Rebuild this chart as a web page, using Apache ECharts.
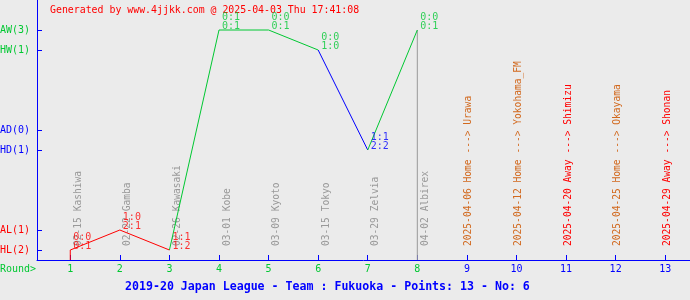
<!DOCTYPE html>
<html>
<head>
<meta charset="utf-8">
<script src="https://cdn.jsdelivr.net/npm/echarts@6/dist/echarts.min.js"></script>
<style>
html,body{margin:0;padding:0;background:#ebebeb;}
#c{width:690px;height:300px;}
</style>
</head>
<body>
<div id="c"></div>
<script>
// ---- data ----
const rounds = [1, 2, 3, 4, 5, 6, 7, 8];
const results = ['HL', 'AL', 'HL', 'AW', 'AW', 'HW', 'HD', 'AW'];
const scoresHalf = ['0:0', '1:0', '1:1', '0:1', '0:0', '0:0', '1:1', '0:0'];
const scoresFull = ['0:1', '2:1', '1:2', '0:1', '0:1', '1:0', '2:2', '0:1'];
const playedLabels = ['02-15 Kashiwa', '02-22 Gamba', '02-26 Kawasaki', '03-01 Kobe', '03-09 Kyoto', '03-15 Tokyo', '03-29 Zelvia', '04-02 Albirex'];
const futureRounds = [9, 10, 11, 12, 13];
const futureVenue = ['Home', 'Home', 'Away', 'Home', 'Away'];
const futureLabels = ['2025-04-06 Home ---> Urawa', '2025-04-12 Home ---> Yokohama_FM', '2025-04-20 Away ---> Shimizu', '2025-04-25 Home ---> Okayama', '2025-04-29 Away ---> Shonan'];
const levelNames = ['HL', 'AL', 'HD', 'AD', 'HW', 'AW'];
const levelValues = [1, 3, 11, 13, 21, 23];
const roundTicks = [1, 2, 3, 4, 5, 6, 7, 8, 9, 10, 11, 12, 13];
const currentRound = 8;
const headerText = 'Generated by www.4jjkk.com @ 2025-04-03 Thu 17:41:08';
const footerText = '2019-20 Japan League - Team : Fukuoka - Points: 13 - No: 6';

// ---- styles ----
const GREEN = '#00c832', BLUE = '#0000ff', RED = '#ff0000', GRAY = '#999999', HOMEC = '#d2691e';
const FONT = 'DejaVu Sans Mono';
const resColor = r => (String(r).endsWith('W') ? GREEN : (String(r).endsWith('D') ? BLUE : RED));
const level = r => levelValues[levelNames.indexOf(r)];
const nameOf = v => levelNames[levelValues.indexOf(Number(v))] || '';
const counts = {};
levelNames.forEach(n => counts[n] = results.filter(r => r === n).length);

// segment series
const series = [];
series.push({
  type: 'line', silent: true, symbol: 'none', z: 1,
  lineStyle: { color: GRAY, width: 1 },
  data: [[currentRound, 0], [currentRound, level(results[rounds.indexOf(currentRound)])]]
});
for (let i = 0; i < rounds.length; i++) {
  const from = i === 0 ? [rounds[0], 0] : [rounds[i - 1], level(results[i - 1])];
  const to = [rounds[i], level(results[i])];
  series.push({
    type: 'line', silent: true, symbol: 'none', z: 2,
    lineStyle: { color: resColor(results[i]), width: 1 },
    data: [from, to]
  });
}
// score labels
series.push({
  type: 'scatter', silent: true, symbolSize: 1, z: 3,
  itemStyle: { color: 'transparent' },
  data: rounds.map((r, i) => ({
    value: [r, level(results[i])],
    label: {
      show: true, position: 'right', distance: 2.5, offset: [0, -8.5],
      formatter: scoresHalf[i] + '\n' + scoresFull[i],
      color: resColor(results[i]), fontFamily: FONT, fontSize: 10, lineHeight: 9
    }
  }))
});
// vertical match labels
const vData = rounds.map((r, i) => [r, i, 0]).concat(futureRounds.map((r, i) => [r, i, 1]));
series.push({
  type: 'custom', silent: true, z: 0, clip: false,
  data: vData,
  renderItem: function (params, api) {
    const r = api.value(0), idx = api.value(1), fut = api.value(2);
    const pt = api.coord([r, 0]);
    const text = fut ? futureLabels[idx] : playedLabels[idx];
    const color = fut ? (futureVenue[idx] === 'Home' ? HOMEC : RED) : GRAY;
    return {
      type: 'text',
      x: pt[0] + (fut ? 2 : 8),
      y: pt[1] - 14,
      rotation: Math.PI / 2,
      style: { text: text, fill: color, font: '9.6px "' + FONT + '"', align: 'left', verticalAlign: 'middle' }
    };
  }
});

const chart = echarts.init(document.getElementById('c'), null, { renderer: 'canvas' });
chart.setOption({
  backgroundColor: '#ebebeb',
  animation: false,
  grid: { left: 37, right: 0, top: 0, bottom: 40, containLabel: false, outerBoundsMode: 'none' },
  xAxis: {
    type: 'value', min: 0.329, max: 13.5,
    axisLine: { show: true, lineStyle: { color: BLUE, width: 1 } },
    axisTick: { show: true, inside: true, length: 5, customValues: roundTicks, lineStyle: { color: BLUE } },
    axisLabel: {
      show: true, customValues: roundTicks, margin: 4,
      fontFamily: FONT, fontSize: 10,
      formatter: v => String(v),
      color: v => (Number(v) <= currentRound ? GREEN : BLUE)
    },
    splitLine: { show: false }
  },
  yAxis: {
    type: 'value', min: 0, max: 26,
    axisLine: { show: true, lineStyle: { color: BLUE, width: 1 } },
    axisTick: { show: true, inside: true, length: 5, customValues: levelValues, lineStyle: { color: BLUE } },
    axisLabel: {
      show: true, customValues: levelValues, margin: 37, align: 'left',
      fontFamily: FONT, fontSize: 10,
      formatter: v => { const n = nameOf(v); return n + '(' + counts[n] + ')'; },
      color: v => resColor(nameOf(v))
    },
    splitLine: { show: false }
  },
  graphic: [
    { type: 'text', x: 50, y: 10, style: { text: headerText, fill: RED, font: '9.9px "' + FONT + '"', verticalAlign: 'middle' } },
    { type: 'text', x: 0, y: 269, style: { text: 'Round>', fill: GREEN, font: '10px "' + FONT + '"', verticalAlign: 'middle' } },
    { type: 'text', x: 125, y: 287, style: { text: footerText, fill: BLUE, font: 'bold 11.6px "' + FONT + '"', verticalAlign: 'middle' } }
  ],
  series: series
});
</script>
</body>
</html>
